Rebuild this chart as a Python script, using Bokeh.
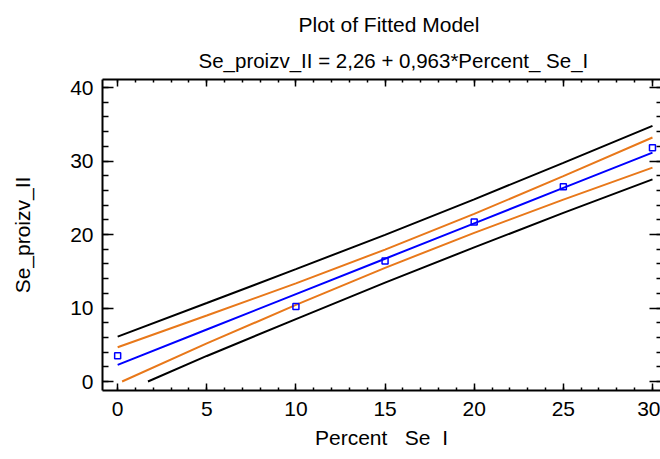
from bokeh.plotting import figure
from bokeh.models import Range1d, LinearAxis, SingleIntervalTicker, Title
from bokeh.embed import file_html
from bokeh.resources import INLINE

# observed data
x_obs = [0, 10, 15, 20, 25, 30]
y_obs = [3.5, 10.2, 16.4, 21.7, 26.5, 31.8]

# fitted line and limits
x_grid = [0, 5, 10, 15, 20, 25, 30]
fit = [2.26, 7.08, 11.89, 16.71, 21.52, 26.34, 31.15]
conf_upper = [4.66, 8.98, 13.36, 17.95, 22.81, 27.94, 33.20]
pred_upper = [6.11, 10.68, 15.29, 19.96, 24.79, 29.74, 34.79]
x_conf_lower = [0.25, 5, 10, 15, 20, 25, 30]
conf_lower = [0.0, 5.18, 10.42, 15.47, 20.23, 24.74, 29.10]
x_pred_lower = [1.7, 5, 10, 15, 20, 25, 30]
pred_lower = [0.0, 3.48, 8.49, 13.46, 18.25, 22.94, 27.51]

title_main = "Plot of Fitted Model"
title_sub = "Se_proizv_II = 2,26 + 0,963*Percent_ Se_I"
x_label = "Percent\u00a0\u00a0\u00a0Se\u00a0\u00a0I"
y_label = "Se_proizv_II"

FONT = "Liberation Sans"
FS = "21px"
ORANGE = "#E8781A"

p = figure(width=660, height=459, title=None,
           x_range=Range1d(-0.85, 30.45), y_range=Range1d(-1.22, 41.09),
           output_backend="svg", toolbar_location=None,
           min_border_left=102, min_border_right=0, min_border_top=79, min_border_bottom=69)
p.background_fill_color = "white"
p.border_fill_color = "white"
p.outline_line_color = None
p.xgrid.visible = False
p.ygrid.visible = False

xt = SingleIntervalTicker(interval=5, num_minor_ticks=5)
yt = SingleIntervalTicker(interval=10, num_minor_ticks=5)

def style_axis(ax, ticker, major_in, minor_in, labels=True):
    ax.ticker = ticker
    ax.axis_line_width = 2
    ax.axis_line_color = "black"
    ax.major_tick_in = major_in
    ax.major_tick_out = 0
    ax.minor_tick_in = minor_in
    ax.minor_tick_out = 0
    ax.major_tick_line_width = 1.5
    ax.minor_tick_line_width = 1.5
    ax.major_tick_line_color = "black"
    ax.minor_tick_line_color = "black"
    if labels:
        ax.major_label_text_font = FONT
        ax.major_label_text_font_size = FS
        ax.major_label_text_color = "black"
        ax.axis_label_text_font = FONT
        ax.axis_label_text_font_size = FS
        ax.axis_label_text_font_style = "normal"
        ax.axis_label_text_color = "black"
    else:
        ax.major_label_text_font_size = "0px"
        ax.major_label_text_color = None
        ax.major_label_standoff = 0

style_axis(p.xaxis[0], xt, 7, 3)
p.xaxis[0].axis_label = x_label
p.xaxis[0].major_label_standoff = 11
p.xaxis[0].axis_label_standoff = 7

style_axis(p.yaxis[0], yt, 11, 6)
p.yaxis[0].axis_label = y_label
p.yaxis[0].major_label_standoff = 9
p.yaxis[0].axis_label_standoff = 33

top = LinearAxis()
style_axis(top, SingleIntervalTicker(interval=5, num_minor_ticks=5), 7, 3, labels=False)
p.add_layout(top, "above")
right = LinearAxis()
style_axis(right, SingleIntervalTicker(interval=10, num_minor_ticks=5), 11, 4, labels=False)
right.axis_line_color = None
p.add_layout(right, "right")

sub = Title(text=title_sub, align="left", text_font=FONT, text_font_size="20.5px",
            text_font_style="normal", text_color="black", standoff=15, offset=96)
main = Title(text=title_main, align="left", text_font=FONT, text_font_size=FS,
             text_font_style="normal", text_color="black", standoff=7, offset=196)
p.add_layout(sub, "above")
p.add_layout(main, "above")

p.line(x_grid, pred_upper, line_color="black", line_width=2)
p.line(x_pred_lower, pred_lower, line_color="black", line_width=2)
p.line(x_grid, conf_upper, line_color=ORANGE, line_width=2)
p.line(x_conf_lower, conf_lower, line_color=ORANGE, line_width=2)
p.line(x_grid, fit, line_color="#0000FF", line_width=2)
p.scatter(x_obs, y_obs, marker="square", size=6, fill_color=None,
          line_color="#0000FF", line_width=1.5)

open("out.html", "w").write(file_html(p, INLINE))
